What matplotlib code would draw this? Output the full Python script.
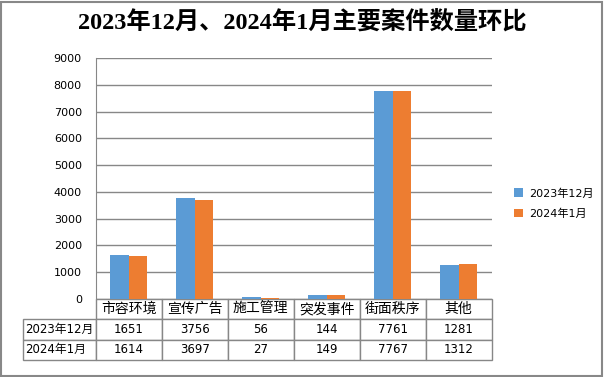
import matplotlib.pyplot as plt
import matplotlib.patches as patches
import numpy as np

plt.rcParams['font.family'] = ['DejaVu Sans', 'Noto Sans CJK SC']

categories = ['市容环境', '宣传广告', '施工管理', '突发事件', '街面秩序', '其他']
series_names = ['2023年12月', '2024年1月']
dec2023 = [1651, 3756, 56, 144, 7761, 1281]
jan2024 = [1614, 3697, 27, 149, 7767, 1312]
yticks = np.arange(0, 9001, 1000)

c_blue = '#5B9BD5'
c_orange = '#ED7D31'
c_grid = '#878787'

fig = plt.figure(figsize=(6.04, 3.77), dpi=100)
ax = fig.add_axes([0.1585, 0.2069, 0.6555, 0.6393])

x = np.arange(len(categories))
w = 0.28
ax.bar(x - w/2, dec2023, w, color=c_blue, label=series_names[0], zorder=3)
ax.bar(x + w/2, jan2024, w, color=c_orange, label=series_names[1], zorder=3)

ax.set_xlim(-0.5, len(categories) - 0.5)
ax.set_ylim(0, 9000)
ax.set_yticks(yticks)
ax.set_yticklabels([str(v) for v in yticks], fontsize=8)
ax.tick_params(axis='y', length=0, pad=10)
ax.set_xticks([])
ax.yaxis.grid(True, color=c_grid, lw=1)
ax.set_axisbelow(True)
for s in ['top', 'right', 'bottom']:
    ax.spines[s].set_visible(False)
ax.spines['left'].set_color(c_grid)

# data table under the axis
cell_text = [[''] + categories,
             [series_names[0]] + [str(v) for v in dec2023],
             [series_names[1]] + [str(v) for v in jan2024]]
tab = ax.table(cellText=cell_text, colWidths=[72.4] + [66] * 6,
               cellLoc='center', bbox=[-0.183, -0.253, 1.183, 0.253])
tab.auto_set_font_size(False)
for (r, c), cell in tab.get_celld().items():
    cell.set_edgecolor(c_grid)
    cell.set_linewidth(1)
    if r == 0:
        cell.set_fontsize(10)
    else:
        cell.set_fontsize(8.5)
    if c == 0:
        cell.get_text().set_ha('left')
        cell.PAD = 0.03
tab[(0, 0)].set_edgecolor('none')
tab[(0, 0)].set_facecolor('none')

fig.legend(loc='center left', bbox_to_anchor=(0.835, 0.46), frameon=False,
           fontsize=8, handlelength=0.8, handleheight=0.8, handletextpad=0.5,
           labelspacing=0.9)

fig.suptitle('2023年12月、2024年1月主要案件数量环比', y=0.97,
             fontsize=17.5, fontweight='bold',
             family=['Liberation Serif', 'Noto Sans CJK SC'])

fig.patches.append(patches.Rectangle((0.002, 0.003), 0.995, 0.993,
                                     transform=fig.transFigure, fill=False,
                                     edgecolor='#888888', lw=1.5))

fig.savefig('out.png', dpi=100)
